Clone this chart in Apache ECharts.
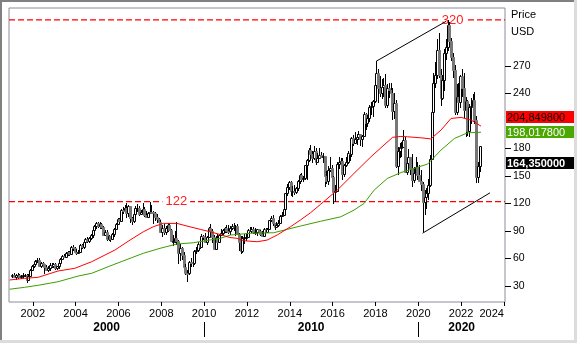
<!DOCTYPE html>
<html><head><meta charset="utf-8">
<script src="https://cdn.jsdelivr.net/npm/echarts@6/dist/echarts.min.js"></script>
<style>html,body{margin:0;padding:0;background:#fff;overflow:hidden}#c{width:577px;height:343px}</style>
</head><body><div id="c"></div><script>
// ---- data (monthly bars, Jan 2001 .. Nov 2022) ----
const startYear = 2001;
const opens = [
40.5,42.3,40.0,41.7,42.0,40.2,40.6,41.6,41.9,36.8,41.1,47.8,
51.9,54.2,57.3,58.1,51.7,54.6,53.4,50.9,47.6,50.1,53.2,51.9,
54.2,49.9,51.2,55.1,59.9,63.0,62.0,65.7,66.5,64.4,72.5,71.0,
67.5,67.0,67.5,75.1,72.0,77.5,81.7,78.5,82.1,85.7,91.1,95.1,
98.5,95.6,97.3,93.9,85.0,89.3,81.0,84.1,81.5,87.1,91.9,97.7,
103.4,101.2,113.0,112.9,115.1,109.3,116.9,104.6,100.6,108.7,114.5,115.5,
108.6,110.4,113.4,107.4,105.4,109.1,111.0,110.7,109.6,104.7,103.1,99.4,
89.2,93.5,88.3,92.7,95.9,91.2,78.8,78.9,82.7,79.0,65.4,71.4,
64.2,51.0,44.6,44.5,56.0,55.6,55.4,67.8,68.8,75.2,72.7,84.3,
83.4,78.3,83.4,93.4,89.9,83.5,70.1,82.7,78.3,85.5,87.6,91.1,
93.0,90.3,89.8,93.6,95.5,93.8,94.9,86.8,78.3,67.7,81.8,83.0,
83.5,91.5,90.0,92.0,88.3,89.2,91.6,90.3,86.9,84.6,92.0,89.3,
91.7,101.6,104.0,98.2,94.1,96.3,98.6,106.0,107.6,114.1,131.0,138.2,
143.8,133.5,133.6,132.6,136.3,144.0,151.4,146.9,148.0,161.5,167.4,178.0,
173.7,169.1,176.8,165.5,169.6,172.6,170.4,171.4,150.3,144.0,156.1,158.5,
149.0,132.9,133.6,162.7,165.5,165.7,151.8,162.1,164.9,174.7,174.3,191.7,
186.2,190.6,192.8,195.2,189.7,193.9,217.3,208.1,213.6,225.6,225.8,231.5,
249.5,262.1,246.0,240.1,247.2,249.1,227.1,245.8,243.8,240.8,220.4,228.9,
161.3,177.5,181.0,181.4,189.5,154.4,164.2,170.5,158.6,145.6,152.7,160.1,
151.2,144.6,141.5,121.3,126.8,130.9,140.2,168.4,219.9,251.5,259.5,287.3,
259.6,235.2,254.1,284.0,290.3,314.8,297.5,279.9,265.1,219.4,235.5,230.1,
258.6,245.8,222.2,231.4,198.7,224.7,226.7,233.1,210.8,148.5,160.3];
const closes = [
42.3,40.0,41.7,42.0,40.2,40.6,41.6,41.9,36.8,41.1,47.8,51.9,
54.2,57.3,58.1,51.7,54.6,53.4,50.9,47.6,50.1,53.2,51.9,54.2,
49.9,51.2,55.1,59.9,63.0,62.0,65.7,66.5,64.4,72.5,71.0,67.5,
67.0,67.5,75.1,72.0,77.5,81.7,78.5,82.1,85.7,91.1,95.1,98.5,
95.6,97.3,93.9,85.0,89.3,81.0,84.1,81.5,87.1,91.9,97.7,103.4,
101.2,113.0,112.9,115.1,109.3,116.9,104.6,100.6,108.7,114.5,115.5,108.6,
110.4,113.4,107.4,105.4,109.1,111.0,110.7,109.6,104.7,103.1,99.4,89.2,
93.5,88.3,92.7,95.9,91.2,78.8,78.9,82.7,79.0,65.4,71.4,64.2,
51.0,44.6,44.5,56.0,55.6,55.4,67.8,68.8,75.2,72.7,84.3,83.4,
78.3,83.4,93.4,89.9,83.5,70.1,82.7,78.3,85.5,87.6,91.1,93.0,
90.3,89.8,93.6,95.5,93.8,94.9,86.8,78.3,67.7,81.8,83.0,83.5,
91.5,90.0,92.0,88.3,89.2,91.6,90.3,86.9,84.6,92.0,89.3,91.7,
101.6,104.0,98.2,94.1,96.3,98.6,106.0,107.6,114.1,131.0,138.2,143.8,
133.5,133.6,132.6,136.3,144.0,151.4,146.9,148.0,161.5,167.4,178.0,173.7,
169.1,176.8,165.5,169.6,172.6,170.4,171.4,150.3,144.0,156.1,158.5,149.0,
132.9,133.6,162.7,165.5,165.7,151.8,162.1,164.9,174.7,174.3,191.7,186.2,
190.6,192.8,195.2,189.7,193.9,217.3,208.1,213.6,225.6,225.8,231.5,249.5,
262.1,246.0,240.1,247.2,249.1,227.1,245.8,243.8,240.8,220.4,228.9,161.3,
177.5,181.0,181.4,189.5,154.4,164.2,170.5,158.6,145.6,152.7,160.1,151.2,
144.6,141.5,121.3,126.8,130.9,140.2,168.4,219.9,251.5,259.5,287.3,259.6,
235.2,254.1,284.0,290.3,314.8,297.5,279.9,265.1,219.4,235.5,230.1,258.6,
245.8,222.2,231.4,198.7,224.7,226.7,233.1,210.8,148.5,160.3,182.2];
const lows = [
38.5,39.0,36.5,38.0,39.0,37.5,39.0,39.5,33.2,35.5,40.5,46.5,
50.0,52.5,55.5,50.5,50.0,51.5,43.5,46.5,45.5,46.0,50.0,49.5,
47.8,47.0,49.0,54.0,58.5,60.5,61.0,62.5,63.0,63.5,68.0,65.5,
63.5,64.5,66.0,70.5,70.0,76.0,77.0,77.0,80.5,82.5,89.0,92.5,
93.0,92.5,92.5,84.0,84.5,79.5,79.5,77.5,80.5,83.5,90.5,96.0,
98.0,100.5,108.0,110.5,104.0,105.5,98.5,96.5,98.5,107.5,111.0,106.0,
107.0,108.0,105.0,104.5,104.0,108.5,108.5,97.0,101.0,99.0,94.5,87.5,
83.5,86.0,85.5,88.5,90.0,78.0,73.5,77.0,75.0,53.9,57.0,58.0,
50.0,41.5,34.0,42.0,50.5,50.5,53.0,64.5,67.0,70.0,72.0,80.5,
76.5,74.5,83.0,88.5,76.5,69.8,69.0,77.5,77.5,84.0,86.0,87.5,
88.0,87.0,85.5,90.5,89.5,84.0,85.5,68.5,64.5,66.0,76.0,79.5,
83.0,88.5,88.0,86.5,85.5,84.0,86.5,84.5,83.5,83.0,87.5,88.0,
91.5,99.5,95.5,90.5,93.0,94.0,98.0,105.0,106.5,113.0,128.0,135.0,
128.5,127.5,129.0,130.5,134.0,141.0,143.5,143.0,146.0,146.0,165.5,168.0,
164.5,167.0,162.0,164.5,169.0,169.5,164.0,137.5,141.0,140.5,154.0,141.5,
119.7,121.0,132.0,157.5,152.0,145.0,149.0,160.0,163.0,166.0,171.0,183.0,
184.5,184.0,189.0,182.5,182.0,193.0,200.0,203.5,208.5,216.0,214.0,229.0,
248.0,229.5,236.0,233.5,236.0,224.0,223.5,235.0,235.5,211.0,211.5,158.8,
150.9,170.0,170.5,180.0,153.5,150.5,162.0,150.6,137.8,142.0,151.5,146.0,
143.5,133.5,88.7,107.5,114.0,124.0,138.0,167.0,216.0,246.0,256.0,257.0,
226.5,233.0,243.0,276.5,286.0,293.0,275.0,257.0,216.3,216.5,222.0,224.0,
236.0,213.0,192.8,193.2,192.3,207.0,213.5,207.0,141.9,142.5,154.5];
const highs = [
43.5,44.0,42.5,44.5,43.0,42.0,44.0,43.5,42.5,43.0,48.5,53.0,
55.5,58.0,60.0,61.0,55.8,56.0,54.0,52.5,51.5,54.5,55.0,55.5,
55.5,52.0,56.0,60.5,64.0,65.0,66.5,68.0,68.5,74.0,74.5,72.0,
70.5,69.5,76.0,76.0,78.5,82.0,83.5,83.0,87.0,92.0,96.5,100.0,
99.5,99.5,99.0,95.0,91.0,91.5,85.5,84.5,88.0,93.0,98.5,104.5,
104.5,114.0,116.0,118.5,120.0,118.0,117.5,105.0,110.0,117.0,119.5,117.5,
113.0,120.5,116.0,112.0,111.0,121.0,118.0,112.0,110.5,108.0,104.0,102.0,
96.0,97.0,95.0,98.5,99.0,92.0,85.5,90.0,99.5,80.0,76.0,73.0,
67.0,54.0,47.0,57.0,60.0,59.0,69.0,72.0,77.5,79.0,87.0,86.0,
87.5,84.0,94.5,97.5,92.5,85.0,84.0,87.0,87.0,92.0,92.5,94.5,
96.0,96.0,95.0,97.5,98.5,96.0,97.5,88.0,84.0,84.0,87.0,87.5,
92.5,94.0,94.0,94.0,93.0,92.5,92.5,90.5,90.0,93.0,93.5,93.0,
102.0,106.0,107.0,99.0,99.5,102.0,107.0,110.5,118.0,131.5,141.0,144.5,
144.0,138.5,140.0,138.0,145.5,152.5,153.0,150.0,162.0,168.5,180.0,183.5,
177.0,182.5,180.5,174.5,180.0,176.0,174.5,172.0,155.0,161.0,171.0,161.5,
149.5,140.0,165.0,171.0,169.5,170.0,163.0,170.5,177.0,177.0,192.5,195.0,
198.0,195.5,198.5,196.0,195.0,219.5,219.0,216.0,227.0,230.0,233.0,253.0,
274.7,266.0,259.0,256.0,256.5,261.0,250.0,251.0,251.5,246.0,240.0,233.0,
181.0,186.0,186.5,199.5,192.0,167.0,179.5,171.0,174.0,160.0,170.5,165.0,
162.0,156.0,143.0,135.0,136.5,147.0,173.0,225.0,262.5,274.0,299.0,305.7,
266.0,259.5,288.5,299.0,319.9,318.0,300.0,284.0,271.0,250.0,251.0,260.0,
266.0,262.0,236.0,233.0,228.0,235.0,239.0,241.0,215.0,165.5,183.0];

// moving averages: [year, value]
const maRed = [[2000.92,36.5],[2001.62,38.3],[2002.25,39.4],[2003.18,46.3],[2003.96,49.2],[2004.75,56.4],[2005.37,63.7],[2005.84,69.2],[2006.54,80],[2007.16,89],[2007.63,94.6],[2008.1,98.2],[2008.73,98.2],[2009.2,95.3],[2009.82,91.7],[2010.29,89],[2010.76,86],[2011.2,82.8],[2011.54,81.9],[2011.85,79.3],[2012.48,78.2],[2012.94,80],[2013.41,85.5],[2014.04,94.6],[2014.5,101.9],[2014.97,109.8],[2015.44,119],[2016.22,134.5],[2017.0,152.7],[2017.79,170.8],[2018.8,192],[2019.19,193],[2019.5,192.6],[2020.12,191.5],[2020.59,190.3],[2021.06,199.9],[2021.53,212.6],[2022.0,213.7],[2022.47,210.8],[2022.93,204.2]];
const maGreen = [[2000.92,26.4],[2001.62,28.5],[2002.25,30.7],[2003.18,34.6],[2004.12,40.8],[2004.75,43.8],[2005.6,51.7],[2006.54,60.1],[2007.16,65.6],[2007.94,71],[2008.73,75.7],[2009.5,77.1],[2010.29,80.2],[2010.76,81.9],[2011.23,85.5],[2012.16,87.4],[2013.25,88],[2013.88,91.7],[2014.5,95.3],[2015.44,100.5],[2016.38,105.4],[2017.0,112.7],[2017.47,120],[2017.94,134.5],[2018.56,147.3],[2019.19,153.6],[2019.81,158.2],[2020.44,162.9],[2021.06,178.1],[2021.69,190.8],[2022.31,197],[2022.93,197.6]];

// trend lines
const trendUpper = [[2018.04,275],[2021.3,318.5]];
const trendLower = [[2020.2,87.5],[2023.35,131.5]];

// horizontal levels and where their labels sit
const levels = [320, 122];
const levelLabelYears = [2021.6, 2008.7];

// axis ticks / labels
const yTicks = [30,60,90,120,150,180,240,270];
const xTicks = [2002,2004,2006,2008,2010,2012,2014,2016,2018,2020,2022,2024];
const decadeLabels = ['2000','2010','2020'];
const decadeStarts = [2000,2010,2020];

// value badges on the right
const badgeValues = [204.8498, 198.0178, 164.35];
const badgeFill = ['#ff0000','#4aa800','#000000'];
const badgeText = ['#000000','#ffffff','#ffffff'];
const badgeBold = [false,false,true];

// ---- chart ----
const xMin = 2000.89, xMax = 2024.05, yMin = 12.5, yMax = 333;
const FONT = 'Liberation Sans, Arial, sans-serif';
const NARROW = 'Liberation Sans Narrow, Arial Narrow, Liberation Sans, sans-serif';
const UP_FILL = '#ffffff', UP_LINE = '#000000', DOWN_FILL = '#777777';

const candles = closes.map((c, i) => [startYear + (i + 0.5) / 12, opens[i], c, lows[i], highs[i]]);
const decadeMid = decadeStarts.map(s => (Math.max(s, xMin) + Math.min(s + 10, xMax)) / 2);

function renderCandle(params, api) {
  const x = api.value(0), o = api.value(1), c = api.value(2), l = api.value(3), h = api.value(4);
  const pl = api.coord([x, l]), ph = api.coord([x, h]);
  const po = api.coord([x, o]), pc = api.coord([x, c]);
  const up = c >= o;
  const cx = Math.round(pl[0]) + 0.5;
  const top = Math.round(Math.min(po[1], pc[1])) + 0.5;
  const bot = Math.round(Math.max(po[1], pc[1])) + 0.5;
  return {
    type: 'group',
    children: [
      {type: 'line', shape: {x1: cx, y1: Math.round(ph[1]), x2: cx, y2: Math.round(pl[1])}, style: {stroke: '#000', lineWidth: 1}},
      {type: 'rect', shape: {x: cx - 1, y: top, width: 2, height: Math.max(bot - top, 1)},
        style: {fill: up ? UP_FILL : DOWN_FILL, stroke: up ? UP_LINE : DOWN_FILL, lineWidth: 1}}
    ]
  };
}

const levelSeries = levels.map((v, i) => ({
  type: 'line', z: 1, symbol: 'none', silent: true,
  data: [[xMin, v], [xMax, v]],
  lineStyle: {color: '#ff0000', type: [6, 3], width: 1.3},
  markPoint: {
    z: 2, silent: true, symbol: 'rect', symbolSize: 1, itemStyle: {color: 'rgba(0,0,0,0)'},
    label: {show: true, position: 'inside', formatter: p => String(p.value), color: '#ff2020', fontSize: 13, fontFamily: NARROW, backgroundColor: '#ffffff', padding: [0, 3]},
    data: [{coord: [levelLabelYears[i], v], value: v}]
  }
}));

const chart = echarts.init(document.getElementById('c'), null, {renderer: 'canvas'});
const option = {
  animation: false,
  backgroundColor: '#ffffff',
  grid: {left: 9, top: 8, right: 72, bottom: 41, show: true, borderColor: '#8c8c9a', borderWidth: 1, backgroundColor: '#ffffff'},
  xAxis: [{
    type: 'value', min: xMin, max: xMax, position: 'bottom',
    axisLine: {show: false}, splitLine: {show: false},
    axisTick: {show: true, customValues: xTicks, length: 4, lineStyle: {color: '#000'}},
    axisLabel: {customValues: xTicks, formatter: v => String(Math.round(v)), margin: 6, fontSize: 11, fontFamily: FONT, color: '#000', alignMaxLabel: 'right'}
  }, {
    type: 'value', min: xMin, max: xMax, position: 'bottom', offset: 20,
    axisLine: {show: false}, splitLine: {show: false},
    axisTick: {show: true, customValues: decadeStarts.filter(s => s > xMin), length: 15, lineStyle: {color: '#000'}},
    axisLabel: {customValues: decadeMid, formatter: v => decadeLabels[decadeMid.findIndex(m => Math.abs(m - v) < 1e-6)] || '', margin: 0, fontSize: 12, fontWeight: 'bold', fontFamily: FONT, color: '#000'}
  }],
  yAxis: {
    type: 'value', min: yMin, max: yMax, position: 'right',
    axisLine: {show: false}, splitLine: {show: false},
    axisTick: {show: true, customValues: yTicks, length: 6, lineStyle: {color: '#000'}},
    axisLabel: {customValues: yTicks, margin: 8, fontSize: 10.5, fontFamily: FONT, color: '#000'}
  },
  series: levelSeries.concat([
    {type: 'line', data: trendLower, z: 5, symbol: 'none', silent: true, lineStyle: {color: '#000', width: 1}},
    {type: 'line', data: trendUpper, z: 5, symbol: 'none', silent: true, lineStyle: {color: '#000', width: 1}},
    {type: 'custom', data: candles, z: 3, encode: {x: 0, y: [1, 2, 3, 4]}, renderItem: renderCandle},
    {type: 'line', data: maGreen, z: 6, symbol: 'none', silent: true, lineStyle: {color: '#3c9e00', width: 1}},
    {type: 'line', data: maRed, z: 6, symbol: 'none', silent: true, lineStyle: {color: '#ff0000', width: 1}}
  ])
};
chart.setOption(option);

// badges placed at their values, pushed up to avoid overlap
const BH = 12, GAP = 3;
const items = badgeValues.map((v, i) => ({v, i, y: chart.convertToPixel({yAxisIndex: 0}, v)})).sort((a, b) => a.y - b.y);
let prevTop = Infinity;
for (let k = items.length - 1; k >= 0; k--) {
  let top = items[k].y - BH / 2;
  if (top + BH + GAP > prevTop) top = prevTop - GAP - BH;
  items[k].top = Math.round(top); prevTop = items[k].top;
}
const gridRight = chart.convertToPixel({xAxisIndex: 0}, xMax);
const elements = [
  {type: 'rect', shape: {x: 0, y: 0, width: 577, height: 2}, style: {fill: '#808080'}, z: 100},
  {type: 'rect', shape: {x: 0, y: 0, width: 2, height: 343}, style: {fill: '#808080'}, z: 100},
  {type: 'rect', shape: {x: 0, y: 340, width: 577, height: 3}, style: {fill: '#dcdcdc'}, z: 100},
  {type: 'rect', shape: {x: 574, y: 0, width: 3, height: 343}, style: {fill: '#dcdcdc'}, z: 100},
  {type: 'text', x: gridRight + 6, y: 15, z: 100, style: {text: 'Price', font: '11px ' + FONT, fill: '#000', align: 'left', verticalAlign: 'middle', textAlign: 'left', textVerticalAlign: 'middle'}},
  {type: 'text', x: gridRight + 6, y: 32, z: 100, style: {text: 'USD', font: '11px ' + FONT, fill: '#000', align: 'left', verticalAlign: 'middle', textAlign: 'left', textVerticalAlign: 'middle'}}
];
items.forEach(it => {
  elements.push({type: 'rect', z: 100, shape: {x: gridRight + 1, y: it.top, width: 68, height: BH}, style: {fill: badgeFill[it.i]}});
  elements.push({type: 'text', z: 101, x: gridRight + 2, y: it.top + BH / 2 + 0.5,
    style: {text: it.v.toFixed(6).replace('.', ','), font: (badgeBold[it.i] ? 'bold ' : '') + '11px ' + FONT, fill: badgeText[it.i], align: 'left', verticalAlign: 'middle', textAlign: 'left', textVerticalAlign: 'middle'}});
});
chart.setOption({graphic: {elements}});
</script></body></html>
